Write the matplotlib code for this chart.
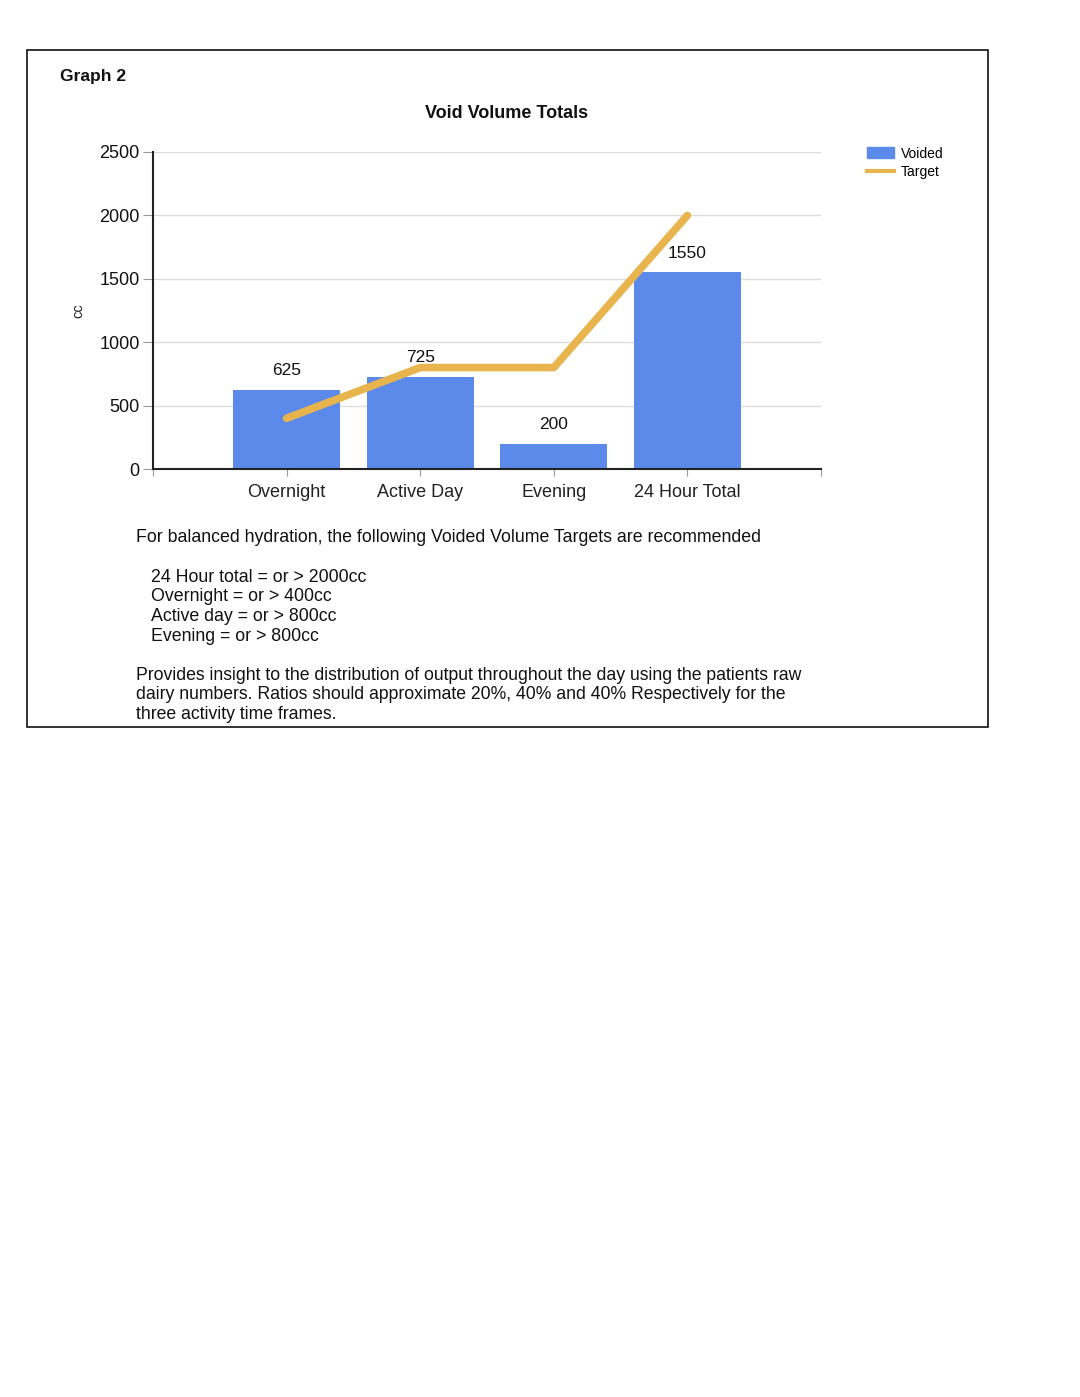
import matplotlib.pyplot as plt
import matplotlib.patches as mpatches
from matplotlib.lines import Line2D

plt.rcParams['font.family'] = ['Liberation Sans', 'DejaVu Sans']

# Data
categories = ["Overnight", "Active Day", "Evening", "24 Hour Total"]
voided = [625, 725, 200, 1550]
target = [400, 800, 800, 2000]
y_ticks = [0, 500, 1000, 1500, 2000, 2500]

notes_intro = "For balanced hydration, the following Voided Volume Targets are recommended"
notes_targets = ["24 Hour total = or > 2000cc",
                 "Overnight = or > 400cc",
                 "Active day = or > 800cc",
                 "Evening = or > 800cc"]
notes_ratio = ["Provides insight to the distribution of output throughout the day using the patients raw",
               "dairy numbers. Ratios should approximate 20%, 40% and 40% Respectively for the",
               "three activity time frames."]

BAR_COLOR = "#5b8aea"
LINE_COLOR = "#e8b44e"

W, H = 1080, 1397
fig = plt.figure(figsize=(W / 100, H / 100), dpi=100)


def fx(px):
    return px / W


def fy(py):
    return 1 - py / H


# outer frame
fig.add_artist(mpatches.Rectangle((fx(27), fy(727)), fx(988) - fx(27), fy(50) - fy(727),
                                  transform=fig.transFigure, fill=False,
                                  edgecolor="#111111", linewidth=1.2))

ax = fig.add_axes([fx(153), fy(469), fx(821) - fx(153), fy(152) - fy(469)])
xpos = list(range(1, len(categories) + 1))

ax.bar(xpos, voided, width=0.8, color=BAR_COLOR, zorder=2, label="Voided")
ax.plot(xpos, target, color=LINE_COLOR, linewidth=5.5, solid_capstyle="round",
        solid_joinstyle="round", zorder=3, label="Target")

for x, v in zip(xpos, voided):
    ax.annotate(str(v), (x, v), xytext=(0, 14), textcoords="offset points",
                ha="center", va="center", fontsize=12.5, color="#111111", zorder=4)

ax.set_xlim(0, len(categories) + 1)
ax.set_ylim(0, 2500)
ax.set_yticks(y_ticks)
ax.set_yticklabels([str(t) for t in y_ticks], fontsize=13, color="#111111")
ax.set_xticks(range(0, len(categories) + 2))
ax.set_xticklabels([""] + categories + [""], fontsize=13, color="#222222")
ax.tick_params(axis="y", length=7, width=0.8, color="#999999", pad=2.5)
ax.tick_params(axis="x", length=5, width=0.8, color="#999999", pad=6)
ax.grid(axis="y", color="#dddddd", linewidth=1, zorder=0)
ax.set_axisbelow(True)
for side in ("top", "right"):
    ax.spines[side].set_visible(False)
for side in ("left", "bottom"):
    ax.spines[side].set_color("#222222")
    ax.spines[side].set_linewidth(1.5)

fig.text(fx(78), fy(311), "cc", rotation=90, ha="center", va="center",
         fontsize=10.5, color="#222222")
fig.text(fx(507), fy(113), "Void Volume Totals", ha="center", va="center",
         fontsize=13, fontweight="bold", color="#111111")
fig.text(fx(60), fy(76), "Graph 2", ha="left", va="center",
         fontsize=12.5, fontweight="bold", color="#111111")

handles = [mpatches.Patch(color=BAR_COLOR), Line2D([], [], color=LINE_COLOR, linewidth=3)]
fig.legend(handles, ["Voided", "Target"], loc="upper left",
           bbox_to_anchor=(fx(857), fy(137)), frameon=False, fontsize=10,
           handlelength=1.95, handleheight=0.85, handletextpad=0.5, labelspacing=0.3,
           borderpad=0.2)

# notes under the chart
fig.text(fx(136), fy(537), notes_intro, ha="left", va="center", fontsize=12.75, color="#111111")
for i, line in enumerate(notes_targets):
    fig.text(fx(151), fy(577 + 19.7 * i), line, ha="left", va="center",
             fontsize=12.75, color="#111111")
for i, line in enumerate(notes_ratio):
    fig.text(fx(136), fy(675 + 19.5 * i), line, ha="left", va="center",
             fontsize=12.7, color="#111111")

fig.savefig("out.png", dpi=100)
